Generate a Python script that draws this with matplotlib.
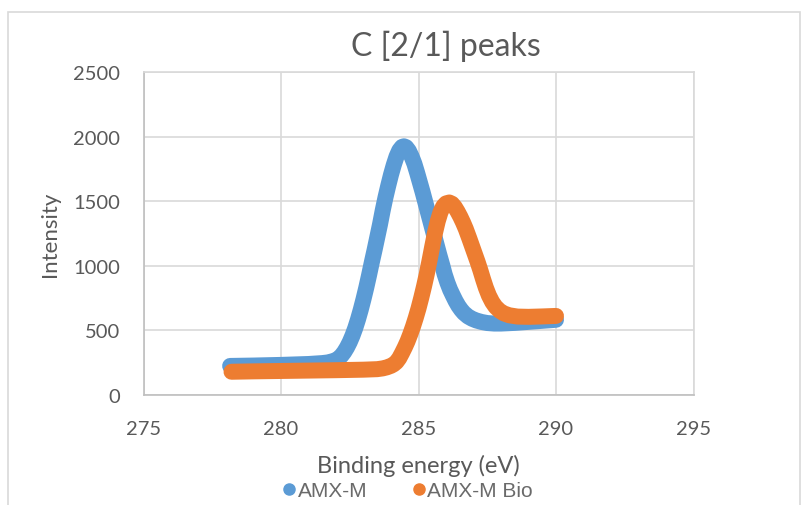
import matplotlib
matplotlib.use("Agg")
import matplotlib.pyplot as plt
from matplotlib.lines import Line2D
from matplotlib.patches import Rectangle

# C [2/1] core-level spectra
amx_m_energy = [278.15, 279.0, 280.0, 281.0, 281.5, 281.7, 281.85, 282.0, 282.1, 282.2,
                282.3, 282.4, 282.5, 282.6, 282.7, 282.8, 282.9, 283.0, 283.1, 283.2,
                283.3, 283.4, 283.5, 283.6, 283.7, 283.8, 283.9, 284.0, 284.1, 284.2,
                284.3, 284.4, 284.47, 284.55, 284.65, 284.75, 284.85, 284.95, 285.05,
                285.15, 285.25, 285.35, 285.45, 285.55, 285.65, 285.75, 285.87, 285.95,
                286.05, 286.15, 286.25, 286.35, 286.45, 286.55, 286.65, 286.8, 286.95,
                287.1, 287.3, 287.5, 287.75, 288.0, 288.5, 289.0, 289.5, 290.0]
amx_m_intensity = [225, 228, 233, 240, 247, 252, 260, 270, 285, 305,
                   333, 368, 410, 460, 518, 585, 660, 742, 830, 925,
                   1025, 1120, 1220, 1320, 1430, 1530, 1620, 1705, 1780, 1845,
                   1893, 1920, 1925, 1918, 1890, 1845, 1790, 1720, 1645,
                   1570, 1490, 1410, 1330, 1250, 1170, 1090, 1000, 935,
                   870, 815, 770, 727, 690, 660, 635, 608, 590,
                   577, 565, 557, 553, 553, 558, 566, 574, 582]

amx_m_bio_energy = [278.2, 279.0, 280.0, 281.0, 282.0, 283.0, 283.5, 283.7, 283.85, 284.0,
                    284.1, 284.2, 284.3, 284.4, 284.5, 284.6, 284.7, 284.8, 284.9, 285.0,
                    285.1, 285.2, 285.3, 285.4, 285.5, 285.6, 285.7, 285.8, 285.9, 286.0,
                    286.12, 286.22, 286.32, 286.42, 286.52, 286.62, 286.72, 286.85, 286.95,
                    287.05, 287.15, 287.25, 287.35, 287.45, 287.56, 287.68, 287.8, 287.95,
                    288.1, 288.3, 288.6, 289.0, 289.5, 290.0]
amx_m_bio_intensity = [180, 183, 186, 189, 192, 196, 200, 206, 214, 226,
                       238, 256, 285, 325, 368, 415, 470, 530, 597, 670,
                       752, 840, 935, 1040, 1150, 1255, 1345, 1415, 1460, 1483,
                       1490, 1480, 1455, 1420, 1380, 1335, 1285, 1210, 1150,
                       1090, 1030, 965, 895, 830, 770, 720, 683, 652,
                       632, 617, 607, 605, 608, 612]

series_names = ["AMX-M", "AMX-M Bio"]
series_colors = ["#5B9BD5", "#ED7D31"]

x_ticks = [275, 280, 285, 290, 295]
y_ticks = [0, 500, 1000, 1500, 2000, 2500]

TEXT = "#595959"
GRID = "#d9d9d9"
AXIS = "#bfbfbf"
FONT = ["Lato", "DejaVu Sans"]

fig = plt.figure(figsize=(8.01, 5.06), dpi=100)
fig.patch.set_facecolor("white")

# outer chart frame
fig.patches.append(Rectangle((8 / 801, -0.2), 792 / 801, 1 - 13 / 506 + 0.2,
                             transform=fig.transFigure, fill=False,
                             edgecolor=GRID, linewidth=1.2, zorder=0))

ax = fig.add_axes([143.5 / 801, 1 - 396 / 506, (693.5 - 143.5) / 801, (396 - 73) / 506])

for xs, ys, c in [(amx_m_energy, amx_m_intensity, series_colors[0]),
                  (amx_m_bio_energy, amx_m_bio_intensity, series_colors[1])]:
    ax.plot(xs, ys, color=c, linewidth=11.5, solid_capstyle="round",
            solid_joinstyle="round", zorder=3)

ax.set_xlim(x_ticks[0], x_ticks[-1])
ax.set_ylim(y_ticks[0], y_ticks[-1])
ax.set_xticks(x_ticks)
ax.set_yticks(y_ticks)
ax.set_xticklabels([str(t) for t in x_ticks], family=FONT, fontsize=14.5, color=TEXT)
ax.set_yticklabels([str(t) for t in y_ticks], family=FONT, fontsize=14.5, color=TEXT)
ax.tick_params(length=0)
ax.tick_params(axis="y", pad=17)
ax.tick_params(axis="x", pad=18)
ax.grid(True, color=GRID, linewidth=1.2, zorder=0)
ax.set_axisbelow(True)
for side in ["top", "right"]:
    ax.spines[side].set_color(GRID)
    ax.spines[side].set_linewidth(1.2)
for side in ["left", "bottom"]:
    ax.spines[side].set_color(AXIS)
    ax.spines[side].set_linewidth(1.2)

fig.text(446 / 801, 1 - 46 / 506, "C [2/1] peaks", family=FONT, fontsize=23,
         color=TEXT, ha="center", va="center")
fig.text(50 / 801, 1 - 234 / 506, "Intensity", family=FONT, fontsize=16,
         color=TEXT, ha="center", va="center", rotation=90)
fig.text(418 / 801, 1 - 466 / 506, "Binding energy (eV)", family=FONT, fontsize=17,
         color=TEXT, ha="center", va="center")

handles = [Line2D([], [], linestyle="none", marker="o", markersize=8,
                  markerfacecolor=c, markeredgecolor=c) for c in series_colors]
fig.legend(handles, series_names, loc="center", bbox_to_anchor=(408 / 801, 1 - 492 / 506),
           ncol=2, frameon=False, handlelength=0.6, handletextpad=0.1,
           columnspacing=2.2, prop={"family": ["Liberation Sans", "DejaVu Sans"], "size": 15},
           labelcolor="#6a6a6a", borderaxespad=0)

fig.savefig("out.png", dpi=100, facecolor="white")
